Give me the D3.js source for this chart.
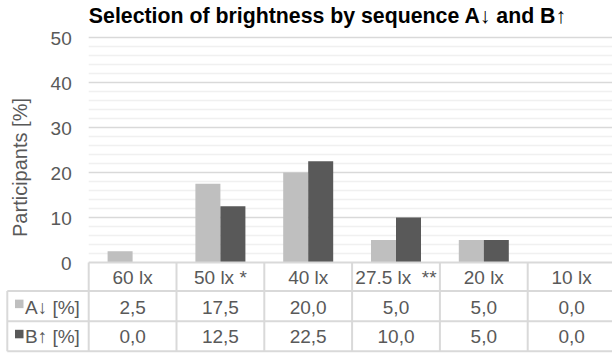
<!DOCTYPE html>
<html>
<head>
<meta charset="utf-8">
<script src="https://cdn.jsdelivr.net/npm/d3@7"></script>
<style>
  html, body { margin: 0; padding: 0; background: #fff; }
  svg { display: block; font-family: "Liberation Sans", Arial, sans-serif; }
  text { white-space: pre; }
</style>
</head>
<body>
<svg id="chart" width="612" height="354"></svg>
<script>
// Brightness levels chosen, by presentation order
const categories = ["60 lx", "50 lx *", "40 lx", "27.5 lx  **", "20 lx", "10 lx"];
const seriesNames = ["A↓ [%]", "B↑ [%]"];
const seriesA = [2.5, 17.5, 20.0, 5.0, 5.0, 0.0];
const seriesB = [0.0, 12.5, 22.5, 10.0, 5.0, 0.0];
const yTicks = [0, 10, 20, 30, 40, 50];
const minorTicks = d3.range(0, 51, 2);

const colors = ["#bfbfbf", "#595959"];
const series = [seriesA, seriesB];
const textColor = "#595959";
const fontSize = 19;

const svg = d3.select("#chart");
const plot = { left: 88.7, right: 615.5, top: 37.5, bottom: 262.5 };
const rowLines = [262.5, 291, 321.3, 351.3];
const tableLeft = 7.3;

const x = d3.scaleBand().domain(categories).range([plot.left, plot.right]).padding(0);
const y = d3.scaleLinear().domain([0, 50]).range([plot.bottom, plot.top]);
const bw = x.bandwidth();
const barW = 25;
const x1 = d3.scaleBand().domain(seriesNames)
  .range([(bw - 2 * barW) / 2, (bw + 2 * barW) / 2]).padding(0);

// minor grid
svg.append("g").selectAll("line").data(minorTicks.filter(t => t % 10 !== 0)).join("line")
  .attr("x1", plot.left).attr("x2", plot.right)
  .attr("y1", d => y(d)).attr("y2", d => y(d))
  .attr("stroke", "#f0f0f0").attr("stroke-width", 1.3);

// major grid
svg.append("g").selectAll("line").data(yTicks.filter(t => t > 0)).join("line")
  .attr("x1", plot.left).attr("x2", plot.right)
  .attr("y1", d => y(d)).attr("y2", d => y(d))
  .attr("stroke", "#d9d9d9").attr("stroke-width", 1.3);

// y axis labels
const yAxis = d3.axisLeft(y).tickValues(yTicks).tickSize(0).tickPadding(17);
const gy = svg.append("g").attr("transform", `translate(${plot.left},0)`).call(yAxis);
gy.select(".domain").remove();
gy.selectAll("text").attr("font-size", fontSize).attr("fill", textColor)
  .attr("dy", "0.36em")
  .attr("font-family", "Liberation Sans, Arial, sans-serif");

// bars
const groups = svg.append("g").selectAll("g").data(categories).join("g")
  .attr("transform", d => `translate(${x(d)},0)`);
groups.selectAll("rect")
  .data((d, i) => series.map((s, k) => ({ k, v: s[i] })))
  .join("rect")
  .attr("x", d => x1(seriesNames[d.k]))
  .attr("width", x1.bandwidth())
  .attr("y", d => y(d.v))
  .attr("height", d => y(0) - y(d.v))
  .attr("fill", d => colors[d.k]);

// baseline
svg.append("line").attr("x1", plot.left).attr("x2", plot.right)
  .attr("y1", y(0)).attr("y2", y(0)).attr("stroke", "#d9d9d9").attr("stroke-width", 2);

// data table
const tableColor = "#d9d9d9";
const tg = svg.append("g");

// horizontal rules
rowLines.slice(1).forEach(ly => {
  tg.append("line").attr("x1", tableLeft).attr("x2", plot.right)
    .attr("y1", ly).attr("y2", ly).attr("stroke", tableColor).attr("stroke-width", 2);
});
// vertical rules
tg.append("line").attr("x1", tableLeft).attr("x2", tableLeft)
  .attr("y1", rowLines[1]).attr("y2", rowLines[3]).attr("stroke", tableColor).attr("stroke-width", 2);
tg.selectAll("line.v").data(categories).join("line").attr("class", "v")
  .attr("x1", d => x(d)).attr("x2", d => x(d))
  .attr("y1", plot.bottom).attr("y2", rowLines[3])
  .attr("stroke", tableColor).attr("stroke-width", 2);

const fmt = v => v.toFixed(1).replace(".", ",");
const baselines = [283.7, 313.7, 343];

// header row
tg.selectAll("text.h").data(categories).join("text").attr("class", "h")
  .attr("x", d => x(d) + bw / 2).attr("y", baselines[0])
  .attr("text-anchor", "middle").attr("font-size", fontSize).attr("fill", textColor)
  .text(d => d);

// value rows with legend keys
series.forEach((s, k) => {
  const by = baselines[k + 1];
  const cellMid = (rowLines[k + 1] + rowLines[k + 2]) / 2;
  tg.selectAll(`text.r${k}`).data(s).join("text").attr("class", `r${k}`)
    .attr("x", (d, i) => x(categories[i]) + bw / 2).attr("y", by)
    .attr("text-anchor", "middle").attr("font-size", fontSize).attr("fill", textColor)
    .text(d => fmt(d));
  tg.append("rect").attr("x", 15).attr("y", cellMid - 6.5).attr("width", 8.5).attr("height", 8.5)
    .attr("fill", colors[k]);
  tg.append("text").attr("x", 25).attr("y", by)
    .attr("font-size", fontSize).attr("fill", textColor).text(seriesNames[k]);
});

// y axis title
svg.append("text")
  .attr("transform", `translate(27,167.5) rotate(-90)`)
  .attr("text-anchor", "middle").attr("font-size", 20).attr("fill", textColor)
  .text("Participants [%]");

// chart title
svg.append("text").attr("x", 327.5).attr("y", 23)
  .attr("text-anchor", "middle").attr("font-size", 21.3).attr("font-weight", "bold")
  .attr("fill", "#000").text("Selection of brightness by sequence A↓ and B↑");
</script>
</body>
</html>
